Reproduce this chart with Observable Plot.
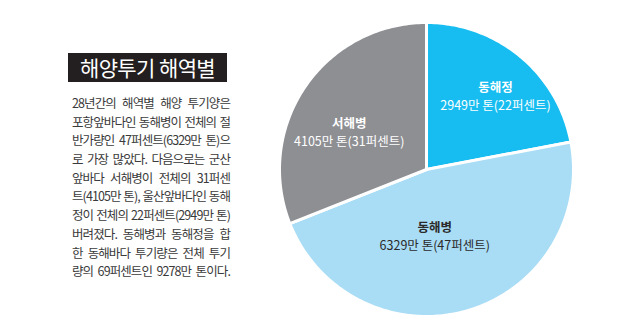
<!DOCTYPE html>
<html>
<head>
<meta charset="utf-8">
<script src="https://cdn.jsdelivr.net/npm/d3@7"></script>
<script src="https://cdn.jsdelivr.net/npm/@observablehq/plot@0.6"></script>
<style>
  html, body { margin: 0; padding: 0; background: #fff; }
  #wrap { position: relative; width: 620px; height: 332px; overflow: hidden; font-family: "Noto Sans CJK KR", sans-serif; }
  #title { position: absolute; left: 68px; top: 53px; width: 159px; height: 29px; background: #231f20; color: #fff;
           font-size: 21px; line-height: 29px; text-align: center; letter-spacing: -0.6px; font-weight: 400; }
  #para { position: absolute; left: 72px; top: 94px; width: 158px; color: #3a3a3a; font-size: 12.5px; letter-spacing: -0.9px; }
  #para div { height: 18.7px; line-height: 18.7px; text-align: justify; text-align-last: justify; white-space: nowrap; }
  #chart { position: absolute; left: 0; top: 0; }
</style>
</head>
<body>
<div id="wrap">
  <div id="chart"></div>
  <div id="title">해양투기 해역별</div>
  <div id="para"></div>
</div>
<script>
// Data
const regions = ["동해정", "동해병", "서해병"];
const tons = [2949, 6329, 4105];          // 만 톤
const percents = [22, 47, 31];            // 퍼센트
const colors = ["#17bdf0", "#a9dcf5", "#8e8f93"];
const titleColors = ["#ffffff", "#2a2a2a", "#ffffff"];
const paragraphLines = [
  "28년간의 해역별 해양 투기양은",
  "포항앞바다인 동해병이 전체의 절",
  "반가량인 47퍼센트(6329만 톤)으",
  "로 가장 많았다. 다음으로는 군산",
  "앞바다 서해병이 전체의 31퍼센",
  "트(4105만 톤), 울산앞바다인 동해",
  "정이 전체의 22퍼센트(2949만 톤)",
  "버려졌다. 동해병과 동해정을 합",
  "한 동해바다 투기량은 전체 투기",
  "량의 69퍼센트인 9278만 톤이다."
];

// Paragraph
const para = document.getElementById("para");
paragraphLines.forEach(l => { const d = document.createElement("div"); d.textContent = l; para.appendChild(d); });

// Pie geometry from data
const table = regions.map((r, i) => ({region: r, tons: tons[i], pct: percents[i], i}));
const arcs = d3.pie().sort(null).value(d => d.pct)(table);
const pts = [];
arcs.forEach(a => {
  pts.push({region: a.data.region, x: 0, y: 0});
  const n = Math.max(2, Math.ceil((a.endAngle - a.startAngle) * 180 / Math.PI));
  for (let k = 0; k <= n; k++) {
    const t = a.startAngle + (a.endAngle - a.startAngle) * k / n;
    pts.push({region: a.data.region, x: Math.sin(t), y: Math.cos(t)});
  }
  pts.push({region: a.data.region, x: 0, y: 0});
});
const labelR = [0.68, 0.46, 0.58];
const labelShift = [0.07, 0.16, -0.16];
const labels = arcs.map((a, i) => {
  const m = (a.startAngle + a.endAngle) / 2 + labelShift[i];
  return {region: a.data.region, x: Math.sin(m) * labelR[i], y: Math.cos(m) * labelR[i],
          value: `${a.data.tons}만 톤(${a.data.pct}퍼센트)`, i};
});

const cx = 426, cy = 169, R = 147, W = 620, H = 332;
const chart = Plot.plot({
  width: W, height: H,
  marginLeft: cx - R, marginRight: W - (cx + R), marginTop: cy - R, marginBottom: H - (cy + R),
  x: {domain: [-1, 1], axis: null},
  y: {domain: [-1, 1], axis: null},
  color: {domain: regions, range: colors},
  style: {fontFamily: "'Noto Sans CJK KR', sans-serif", background: "transparent"},
  marks: [
    Plot.line(pts, {x: "x", y: "y", z: "region", fill: "region", stroke: "#fff", strokeWidth: 3, strokeLinejoin: "round"}),
    Plot.text(labels, {x: "x", y: "y", text: "region", dy: -9, fontSize: 12.5, fontWeight: "bold",
      fill: d => titleColors[d.i]}),
    Plot.text(labels, {x: "x", y: "y", text: "value", dy: 9, fontSize: 12.5, letterSpacing: -0.6,
      fill: d => titleColors[d.i]})
  ]
});
document.getElementById("chart").appendChild(chart);
</script>
</body>
</html>
